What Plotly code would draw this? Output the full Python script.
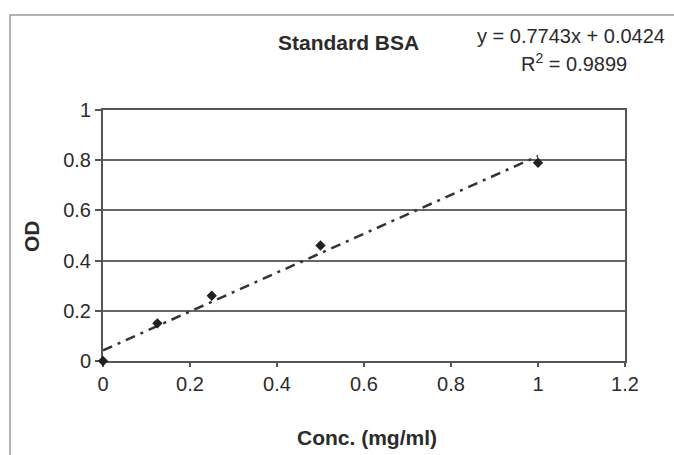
import plotly.graph_objects as go

# Standard curve data: BSA concentration vs optical density
conc = [0, 0.125, 0.25, 0.5, 1.0]
od = [0, 0.15, 0.26, 0.46, 0.79]

# Linear trendline reported on the chart
slope = 0.7743
intercept = 0.0424
r_squared = 0.9899
trend_x = [0, 1.0]

x_ticks = [0, 0.2, 0.4, 0.6, 0.8, 1, 1.2]
y_ticks = [0, 0.2, 0.4, 0.6, 0.8, 1]

FONT = "Liberation Sans, Arial, sans-serif"
INK = "#2b2b2b"

# plot-area geometry in pixels
W, H = 674, 455
L, R, T, B = 103, 49, 110, 94
PW, PH = W - L - R, H - T - B


def px_x(px):
    return (px - L) / PW


def px_y(py):
    return (H - B - py) / PH


fig = go.Figure()

fig.add_trace(go.Scatter(
    x=trend_x,
    y=[slope * v + intercept for v in trend_x],
    mode="lines",
    line=dict(color="#333333", width=2.5, dash="10px,6px,3px,6px"),
    hoverinfo="skip",
    showlegend=False,
))

fig.add_trace(go.Scatter(
    x=conc,
    y=od,
    mode="markers",
    marker=dict(symbol="diamond", size=8, color="#222222"),
    cliponaxis=False,
    showlegend=False,
))

fig.update_layout(
    width=W,
    height=H,
    margin=dict(l=L, r=R, t=T, b=B),
    paper_bgcolor="white",
    plot_bgcolor="white",
    font=dict(family=FONT, size=21, color=INK),
    xaxis=dict(
        range=[0, 1.2],
        tickvals=x_ticks,
        ticktext=[f"{v:g}" for v in x_ticks],
        showgrid=False,
        zeroline=False,
        showline=True,
        linecolor="#555555",
        linewidth=2,
        mirror=True,
        layer="below traces",
        ticks="outside",
        ticklen=4,
        tickcolor="#555555",
        tickwidth=1.5,
        tickfont=dict(size=20, color=INK),
    ),
    yaxis=dict(
        range=[0, 1],
        tickvals=y_ticks,
        ticktext=[f"{v:g}" for v in y_ticks],
        showgrid=True,
        gridcolor="#666666",
        gridwidth=1.5,
        zeroline=False,
        showline=True,
        linecolor="#555555",
        linewidth=2,
        mirror=True,
        layer="below traces",
        ticks="outside",
        ticklen=6,
        tickcolor="#555555",
        tickwidth=1.5,
        tickfont=dict(size=20, color=INK),
    ),
    shapes=[
        # outer chart border
        dict(type="rect", xref="paper", yref="paper",
             x0=px_x(10), x1=px_x(700), y0=px_y(480), y1=px_y(15),
             line=dict(color="#9a9a9a", width=1.5)),
    ],
    annotations=[
        dict(text="<b>Standard BSA</b>", xref="paper", yref="paper",
             x=px_x(348), y=px_y(42), xanchor="center", yanchor="middle",
             showarrow=False, font=dict(size=21, color=INK)),
        dict(text=f"y = {slope}x + {intercept}", xref="paper", yref="paper",
             x=px_x(571), y=px_y(36), xanchor="center", yanchor="middle",
             showarrow=False, font=dict(size=20, color=INK)),
        dict(text=f"R<sup>2</sup> = {r_squared}", xref="paper", yref="paper",
             x=px_x(574), y=px_y(63), xanchor="center", yanchor="middle",
             showarrow=False, font=dict(size=20, color=INK)),
        dict(text="<b>Conc. (mg/ml)</b>", xref="paper", yref="paper",
             x=px_x(367), y=px_y(437), xanchor="center", yanchor="middle",
             showarrow=False, font=dict(size=21, color=INK)),
        dict(text="<b>OD</b>", xref="paper", yref="paper",
             x=px_x(31), y=px_y(236), xanchor="center", yanchor="middle",
             textangle=-90, showarrow=False, font=dict(size=21, color=INK)),
    ],
)

fig.write_html("out.html")
